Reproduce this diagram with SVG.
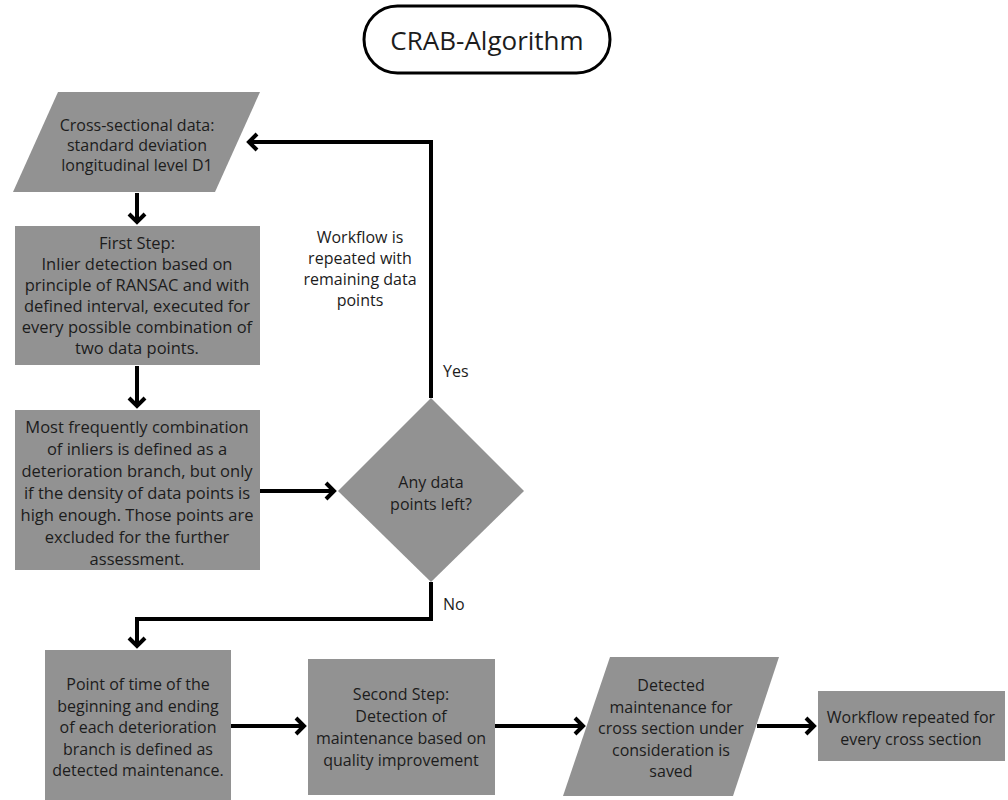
<svg xmlns="http://www.w3.org/2000/svg" width="1008" height="800" viewBox="0 0 1008 800">
<defs>
<style>
.shape{fill:#929292;stroke:none}
.t{font-family:"Open Sans","Noto Sans",sans-serif;font-size:16px;fill:#1c1c1c;text-anchor:middle}
.lbl{font-family:"Open Sans","Noto Sans",sans-serif;font-size:16px;fill:#1c1c1c}
.c{fill:none;stroke:#000;stroke-width:4;stroke-linejoin:miter}
</style>
<marker id="ah" markerUnits="userSpaceOnUse" markerWidth="16" markerHeight="20" refX="10" refY="10" orient="auto" viewBox="0 0 16 20">
<path d="M2,2 L10,10 L2,18" fill="none" stroke="#000" stroke-width="4"/>
</marker>
</defs>
<rect width="1008" height="800" fill="#fff"/>
<g id="title">
<rect x="364" y="6" width="246" height="67" rx="33.5" fill="#fff" stroke="#000" stroke-width="3"/>
<text x="487" y="50" class="t" style="font-size:26px">CRAB-Algorithm</text>
</g>
<g id="connectors">
<path class="c" d="M137,193 V222" marker-end="url(#ah)"/>
<path class="c" d="M137,366 V406" marker-end="url(#ah)"/>
<path class="c" d="M260,491 H334" marker-end="url(#ah)"/>
<path class="c" d="M431,398 V142 H249" marker-end="url(#ah)"/>
<path class="c" d="M431,582 V619 H137 V646" marker-end="url(#ah)"/>
<path class="c" d="M231,726 H304" marker-end="url(#ah)"/>
<path class="c" d="M495,726 H583" marker-end="url(#ah)"/>
<path class="c" d="M757,726 H814" marker-end="url(#ah)"/>
<text class="lbl" x="443" y="377">Yes</text>
<text class="lbl" x="443" y="610">No</text>
<text class="t" y="243"><tspan x="360">Workflow is</tspan><tspan x="360" dy="21">repeated with</tspan><tspan x="360" dy="21">remaining data</tspan><tspan x="360" dy="21">points</tspan></text>
</g>
<g id="input">
<polygon class="shape" points="58,92 260,92 215,192 13,192"/>
<text class="t" y="131"><tspan x="137">Cross-sectional data:</tspan><tspan x="137" dy="20">standard deviation</tspan><tspan x="137" dy="20">longitudinal level D1</tspan></text>
</g>
<g id="first-step">
<rect class="shape" x="15" y="226" width="245" height="139"/>
<text class="t" y="249" style="font-size:16.5px"><tspan x="137">First Step:</tspan><tspan x="137" dy="21">Inlier detection based on</tspan><tspan x="137" dy="21">principle of RANSAC and with</tspan><tspan x="137" dy="21">defined interval, executed for</tspan><tspan x="137" dy="21">every possible combination of</tspan><tspan x="137" dy="21">two data points.</tspan></text>
</g>
<g id="branch">
<rect class="shape" x="15" y="410" width="245" height="160"/>
<text class="t" y="433" style="font-size:16.5px"><tspan x="137">Most frequently combination</tspan><tspan x="137" dy="22">of inliers is defined as a</tspan><tspan x="137" dy="22">deterioration branch, but only</tspan><tspan x="137" dy="22">if the density of data points is</tspan><tspan x="137" dy="22">high enough. Those points are</tspan><tspan x="137" dy="22">excluded for the further</tspan><tspan x="137" dy="22">assessment.</tspan></text>
</g>
<g id="decision">
<polygon class="shape" points="431,398 524,491 431,582 338,491"/>
<text class="t" y="488"><tspan x="431">Any data</tspan><tspan x="431" dy="22">points left?</tspan></text>
</g>
<g id="maintenance-point">
<rect class="shape" x="45" y="650" width="186" height="152"/>
<text class="t" y="690"><tspan x="138">Point of time of the</tspan><tspan x="138" dy="21.5">beginning and ending</tspan><tspan x="138" dy="21.5">of each deterioration</tspan><tspan x="138" dy="21.5">branch is defined as</tspan><tspan x="138" dy="21.5">detected maintenance.</tspan></text>
</g>
<g id="second-step">
<rect class="shape" x="308" y="659" width="187" height="136"/>
<text class="t" y="700"><tspan x="401">Second Step:</tspan><tspan x="401" dy="22">Detection of</tspan><tspan x="401" dy="22">maintenance based on</tspan><tspan x="401" dy="22">quality improvement</tspan></text>
</g>
<g id="output">
<polygon class="shape" points="610,657 779,657 733,796 563,796"/>
<text class="t" y="691"><tspan x="671">Detected</tspan><tspan x="671" dy="21.5">maintenance for</tspan><tspan x="671" dy="21.5">cross section under</tspan><tspan x="671" dy="21.5">consideration is</tspan><tspan x="671" dy="21.5">saved</tspan></text>
</g>
<g id="repeat">
<rect class="shape" x="818" y="691" width="187" height="70"/>
<text class="t" y="723"><tspan x="911">Workflow repeated for</tspan><tspan x="911" dy="21.5">every cross section</tspan></text>
</g>
</svg>
